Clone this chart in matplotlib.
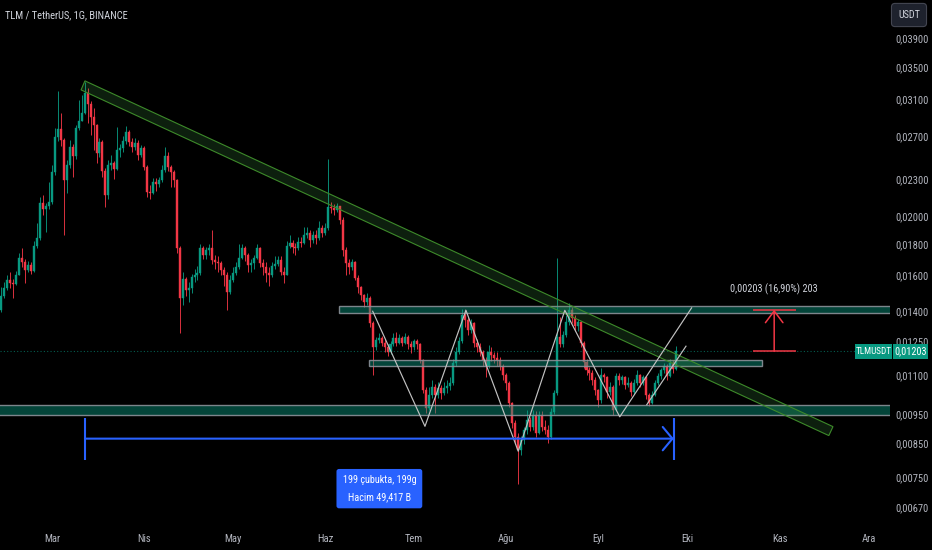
import matplotlib
matplotlib.use('Agg')
import matplotlib.pyplot as plt
from matplotlib import font_manager as fm
from matplotlib.patches import Polygon, Rectangle
from matplotlib.ticker import NullLocator
import numpy as np
import pandas as pd

# ---------------- fonts ----------------
names = {f.name for f in fm.fontManager.ttflist}
FONT = 'DejaVu Sans'
for cand in ['Liberation Sans Narrow', 'DejaVu Sans Condensed', 'Roboto Condensed', 'Roboto']:
    if cand in names:
        FONT = cand
        break
NARROW = FONT in ('Liberation Sans Narrow', 'DejaVu Sans Condensed', 'Roboto Condensed')
FS = 7.6 if NARROW else 6.6
plt.rcParams['font.family'] = [FONT, 'DejaVu Sans']

# ---------------- data ----------------
start_date = '2024-02-13'
first_open = 0.01407
closes = [
    0.01482, 0.01527, 0.01574, 0.01556, 0.01551, 0.01605, 0.01710, 0.01684, 0.01635, 0.01665,
    0.01629, 0.01789, 0.01844, 0.02102, 0.02055, 0.02079, 0.02110, 0.02362, 0.02693, 0.02775,
    0.02663, 0.02292, 0.02425, 0.02594, 0.02508, 0.02786, 0.02860, 0.02948, 0.03177, 0.03049,
    0.02903, 0.02818, 0.02536, 0.02643, 0.02371, 0.02167, 0.02425, 0.02443, 0.02389, 0.02565,
    0.02584, 0.02653, 0.02744, 0.02643, 0.02594, 0.02633, 0.02517, 0.02584, 0.02407, 0.02191,
    0.02183, 0.02275, 0.02258, 0.02292, 0.02380, 0.02508, 0.02407, 0.02362, 0.02292, 0.01776,
    0.01471, 0.01581, 0.01516, 0.01527, 0.01592, 0.01605, 0.01617, 0.01776, 0.01729, 0.01762,
    0.01776, 0.01697, 0.01684, 0.01678, 0.01635, 0.01605, 0.01505, 0.01574, 0.01617, 0.01653,
    0.01710, 0.01776, 0.01729, 0.01665, 0.01678, 0.01710, 0.01776, 0.01678, 0.01653, 0.01617,
    0.01605, 0.01659, 0.01672, 0.01697, 0.01623, 0.01605, 0.01789, 0.01810, 0.01782, 0.01776,
    0.01816, 0.01810, 0.01865, 0.01879, 0.01830, 0.01865, 0.01844, 0.01914, 0.01879, 0.01914,
    0.02071, 0.02063, 0.02048, 0.02079, 0.01972, 0.01762, 0.01678, 0.01653, 0.01684, 0.01587,
    0.01533, 0.01488, 0.01445, 0.01471, 0.01340, 0.01224, 0.01257, 0.01262, 0.01243, 0.01224,
    0.01201, 0.01234, 0.01266, 0.01243, 0.01262, 0.01243, 0.01271, 0.01234, 0.01220, 0.01248,
    0.01234, 0.01166, 0.01041, 0.00973, 0.01022, 0.01053, 0.01022, 0.01049, 0.01029, 0.01049,
    0.01057, 0.01069, 0.01153, 0.01201, 0.01248, 0.01376, 0.01355, 0.01305, 0.01340, 0.01243,
    0.01224, 0.01201, 0.01166, 0.01136, 0.01201, 0.01188, 0.01174, 0.01166, 0.01136, 0.01102,
    0.01069, 0.00992, 0.00920, 0.00873, 0.00831, 0.00863, 0.00896, 0.00930, 0.00906, 0.00948,
    0.00886, 0.00948, 0.00906, 0.00896, 0.00873, 0.00959, 0.01029, 0.01271, 0.01234, 0.01281,
    0.01345, 0.01402, 0.01365, 0.01325, 0.01345, 0.01243, 0.01157, 0.01123, 0.01110, 0.01081,
    0.01041, 0.01003, 0.01102, 0.01090, 0.01033, 0.01053, 0.00966, 0.01094, 0.01081, 0.01090,
    0.01061, 0.01069, 0.01033, 0.01069, 0.01102, 0.01069, 0.01090, 0.01022, 0.00992, 0.01022,
    0.01069, 0.01094, 0.01119, 0.01140, 0.01094, 0.01153, 0.01127, 0.01203,
]
highs = [
    0.01533, 0.01560, 0.01600, 0.01620, 0.01580, 0.01625, 0.01740, 0.01776, 0.01700, 0.01690,
    0.01680, 0.01820, 0.01947, 0.02150, 0.02167, 0.02100, 0.02272, 0.02420, 0.02780, 0.03200,
    0.02948, 0.02680, 0.02470, 0.02660, 0.02620, 0.02820, 0.03095, 0.03150, 0.03307, 0.03230,
    0.03080, 0.03000, 0.02830, 0.02680, 0.02660, 0.02400, 0.02470, 0.02520, 0.02460, 0.02790,
    0.02620, 0.02700, 0.02800, 0.02760, 0.02680, 0.02680, 0.02660, 0.02610, 0.02600, 0.02420,
    0.02250, 0.02310, 0.02310, 0.02320, 0.02420, 0.02594, 0.02540, 0.02420, 0.02380, 0.02300,
    0.01790, 0.01620, 0.01590, 0.01560, 0.01610, 0.01640, 0.01660, 0.01800, 0.01790, 0.01780,
    0.01800, 0.01900, 0.01730, 0.01720, 0.01690, 0.01650, 0.01620, 0.01600, 0.01650, 0.01680,
    0.01800, 0.01800, 0.01790, 0.01740, 0.01700, 0.01730, 0.01800, 0.01780, 0.01700, 0.01680,
    0.01650, 0.01680, 0.01720, 0.01720, 0.01720, 0.01650, 0.01820, 0.01860, 0.01830, 0.01810,
    0.01850, 0.01850, 0.01920, 0.01920, 0.01900, 0.01890, 0.01900, 0.01960, 0.01930, 0.01950,
    0.02475, 0.02110, 0.02090, 0.02100, 0.02080, 0.01990, 0.01780, 0.01700, 0.01700, 0.01690,
    0.01600, 0.01540, 0.01490, 0.01500, 0.01480, 0.01350, 0.01270, 0.01290, 0.01275, 0.01260,
    0.01235, 0.01250, 0.01290, 0.01292, 0.01285, 0.01275, 0.01290, 0.01280, 0.01250, 0.01260,
    0.01260, 0.01240, 0.01170, 0.01050, 0.01050, 0.01080, 0.01065, 0.01070, 0.01060, 0.01070,
    0.01080, 0.01090, 0.01170, 0.01220, 0.01270, 0.01410, 0.01410, 0.01370, 0.01360, 0.01345,
    0.01260, 0.01240, 0.01210, 0.01175, 0.01230, 0.01220, 0.01200, 0.01200, 0.01175, 0.01145,
    0.01110, 0.01075, 0.00995, 0.00930, 0.00885, 0.00875, 0.00905, 0.00965, 0.00940, 0.00965,
    0.00960, 0.00960, 0.00960, 0.00930, 0.00910, 0.00970, 0.01040, 0.01708, 0.01370, 0.01300,
    0.01380, 0.01440, 0.01420, 0.01380, 0.01360, 0.01350, 0.01250, 0.01170, 0.01135, 0.01120,
    0.01090, 0.01045, 0.01130, 0.01110, 0.01095, 0.01070, 0.01060, 0.01110, 0.01110, 0.01100,
    0.01095, 0.01090, 0.01075, 0.01085, 0.01120, 0.01105, 0.01100, 0.01095, 0.01030, 0.01035,
    0.01080, 0.01110, 0.01130, 0.01150, 0.01145, 0.01170, 0.01165, 0.01225,
]
lows = [
    0.01396, 0.01470, 0.01515, 0.01527, 0.01471, 0.01545, 0.01600, 0.01650, 0.01556, 0.01620,
    0.01610, 0.01620, 0.01770, 0.01830, 0.02010, 0.01886, 0.02050, 0.02090, 0.02330, 0.02650,
    0.02600, 0.01863, 0.02183, 0.02400, 0.02318, 0.02480, 0.02760, 0.02860, 0.02940, 0.02840,
    0.02714, 0.02560, 0.02440, 0.02500, 0.02318, 0.02070, 0.02130, 0.02380, 0.02300, 0.02380,
    0.02500, 0.02540, 0.02620, 0.02600, 0.02540, 0.02560, 0.02470, 0.02500, 0.02380, 0.02150,
    0.02130, 0.02170, 0.02200, 0.02230, 0.02270, 0.02360, 0.02370, 0.02233, 0.02230, 0.01740,
    0.01286, 0.01430, 0.01480, 0.01449, 0.01500, 0.01560, 0.01570, 0.01600, 0.01700, 0.01700,
    0.01730, 0.01670, 0.01640, 0.01620, 0.01600, 0.01540, 0.01407, 0.01490, 0.01560, 0.01600,
    0.01640, 0.01700, 0.01690, 0.01620, 0.01620, 0.01640, 0.01700, 0.01650, 0.01600, 0.01560,
    0.01540, 0.01590, 0.01640, 0.01660, 0.01600, 0.01557, 0.01600, 0.01770, 0.01740, 0.01730,
    0.01760, 0.01780, 0.01800, 0.01840, 0.01780, 0.01810, 0.01800, 0.01830, 0.01850, 0.01860,
    0.01900, 0.02020, 0.02010, 0.02030, 0.01940, 0.01720, 0.01600, 0.01610, 0.01630, 0.01570,
    0.01500, 0.01460, 0.01420, 0.01430, 0.01320, 0.01102, 0.01210, 0.01240, 0.01225, 0.01200,
    0.01180, 0.01190, 0.01225, 0.01225, 0.01235, 0.01225, 0.01235, 0.01215, 0.01195, 0.01210,
    0.01215, 0.01150, 0.01030, 0.00955, 0.00965, 0.01010, 0.00955, 0.01010, 0.01005, 0.01020,
    0.01030, 0.01040, 0.01060, 0.01140, 0.01190, 0.01240, 0.01320, 0.01280, 0.01290, 0.01220,
    0.01200, 0.01180, 0.01140, 0.01090, 0.01130, 0.01160, 0.01150, 0.01140, 0.01120, 0.01080,
    0.01040, 0.00975, 0.00900, 0.00850, 0.00730, 0.00815, 0.00850, 0.00880, 0.00890, 0.00895,
    0.00870, 0.00880, 0.00890, 0.00880, 0.00853, 0.00865, 0.00950, 0.01020, 0.01220, 0.01220,
    0.01270, 0.01330, 0.01340, 0.01300, 0.01300, 0.01220, 0.01130, 0.01100, 0.01080, 0.01060,
    0.01020, 0.00975, 0.00990, 0.01070, 0.01010, 0.01020, 0.00945, 0.00960, 0.01060, 0.01065,
    0.01045, 0.01050, 0.01015, 0.01025, 0.01060, 0.01050, 0.01060, 0.01005, 0.00980, 0.00985,
    0.01015, 0.01060, 0.01085, 0.01110, 0.01080, 0.01090, 0.01110, 0.01120,
]

month_labels = ['Mar', 'Nis', 'May', 'Haz', 'Tem', 'Ağu', 'Eyl', 'Eki', 'Kas', 'Ara']
month_first = '2024-03-01'

price_tick_values = [0.039, 0.035, 0.031, 0.027, 0.023, 0.020, 0.018, 0.016, 0.014,
                     0.0125, 0.011, 0.0095, 0.0085, 0.0075, 0.0067]
price_tick_labels = ['0,03900', '0,03500', '0,03100', '0,02700', '0,02300', '0,02000',
                     '0,01800', '0,01600', '0,01400', '0,01250', '0,01100', '0,00950',
                     '0,00850', '0,00750', '0,00670']

last_price = 0.01203
last_price_label = '0,01203'
symbol = 'TLMUSDT'
title = 'TLM / TetherUS, 1G, BINANCE'
currency = 'USDT'

# drawings (day offset from start, price)
trend_band_days = [28.1, 26.8, 278.6, 280.0]
trend_band_prices = [0.03324, 0.03213, 0.00876, 0.00906]

resist_band = (113.6, 0.01391, 0.01428)     # start day, low, high (to right edge)
mid_band = (123.7, 256.1, 0.01140, 0.01162)  # start, end, low, high
support_band = (0.00948, 0.00981)           # full width

zigzag_days = [125.0, 142.6, 156.4, 174.0, 189.7, 208.2, 232.4]
zigzag_prices = [0.01398, 0.00907, 0.01403, 0.00826, 0.01403, 0.00940, 0.01416]
inner_line_days = [217.3, 230.5]
inner_line_prices = [0.00984, 0.01226]

range_start, range_end = 28.1, 226.4
range_price = 0.00866
range_tick_prices = (0.00800, 0.00937)
range_text = '199 çubukta, 199g\nHacim 49,417 B'

measure_day, measure_left, measure_right = 260.2, 253.0, 267.5
measure_low, measure_high = 0.01203, 0.01406
measure_text = '0,00203 (16,90%) 203'

# ---------------- derived ----------------
dates = pd.date_range(start_date, periods=len(closes), freq='D')
xd = np.asarray((dates - dates[0]).days, dtype=float)
c = np.array(closes)
o = np.array([first_open] + closes[:-1])
h = np.array(highs)
l = np.array(lows)
up = c >= o

GREEN = '#089981'
RED = '#f23645'
BG = '#000000'
TXT = '#b2b5be'

W, H = 932, 550
fig = plt.figure(figsize=(W / 100, H / 100), dpi=100, facecolor=BG)
ax = fig.add_axes([0, 30 / H, 890 / W, 520 / H])
ax.set_facecolor(BG)
ax.set_yscale('log')
ax.set_xlim(-0.5, 299.2)
ax.set_ylim(0.006378, 0.04505)
for s in ax.spines.values():
    s.set_visible(False)

# candles
cols = np.where(up, GREEN, RED)
ax.vlines(xd, l, h, colors=cols, lw=0.7, alpha=0.9, zorder=2)
ax.bar(xd, np.abs(c - o), bottom=np.minimum(o, c), width=0.68, color=cols,
       edgecolor=cols, linewidth=0.3, zorder=2)

# current price dotted line
ax.axhline(last_price, color=GREEN, lw=0.8, ls=(0, (1, 2)), alpha=0.6, zorder=1)

# horizontal bands
band_fc = (0.03, 0.60, 0.50, 0.45)
band_ec = (0.55, 0.57, 0.60, 0.9)
xr = ax.get_xlim()[1]
ax.add_patch(Rectangle((resist_band[0], resist_band[1]), xr - resist_band[0] + 5,
                       resist_band[2] - resist_band[1], fc=band_fc, ec=band_ec, lw=1.0, zorder=3))
ax.add_patch(Rectangle((mid_band[0], mid_band[2]), mid_band[1] - mid_band[0],
                       mid_band[3] - mid_band[2], fc=band_fc, ec=band_ec, lw=1.0, zorder=3))
ax.add_patch(Rectangle((-5, support_band[0]), xr + 10, support_band[1] - support_band[0],
                       fc=band_fc, ec=band_ec, lw=1.0, zorder=3))

# diagonal trend band
ax.add_patch(Polygon(list(zip(trend_band_days, trend_band_prices)), closed=True,
                     fc=(0.30, 0.69, 0.31, 0.18), ec='#3d8a2a', lw=0.8, zorder=3))

# zigzag lines
ax.plot(zigzag_days, zigzag_prices, color='#c2c2c2', lw=0.85, zorder=4)
ax.plot(inner_line_days, inner_line_prices, color='#c2c2c2', lw=0.85, zorder=4)

# date range measurement
BLUE = '#2962ff'
ax.vlines([range_start, range_end], range_tick_prices[0], range_tick_prices[1],
          colors=BLUE, lw=1.5, zorder=5)
ax.annotate('', xy=(range_end, range_price), xytext=(range_start, range_price),
            arrowprops=dict(arrowstyle='->,head_length=0.5,head_width=0.6', color=BLUE,
                            lw=1.5, shrinkA=0, shrinkB=0, mutation_scale=14), zorder=5)
ax.annotate(range_text, xy=((range_start + range_end) / 2, range_price),
            xytext=(0, -36), textcoords='offset points', ha='center', va='center',
            color='white', fontsize=FS - 0.3, linespacing=1.9, zorder=6,
            bbox=dict(boxstyle='round,pad=0.6,rounding_size=0.25', fc=BLUE, ec='none'))

# price measurement
ax.hlines([measure_low, measure_high], measure_left, measure_right, colors=RED, lw=1.1, zorder=5)
ax.annotate('', xy=(measure_day, measure_high), xytext=(measure_day, measure_low),
            arrowprops=dict(arrowstyle='->,head_length=0.6,head_width=0.45', color=RED,
                            lw=1.1, shrinkA=0, shrinkB=0, mutation_scale=14), zorder=5)
ax.annotate(measure_text, xy=(measure_day, measure_high), xytext=(0, 15),
            textcoords='offset points', ha='center', va='center', color='#d1d4dc',
            fontsize=FS - 0.2, zorder=6)

# axes ticks
ax.yaxis.tick_right()
ax.set_yticks(price_tick_values)
ax.set_yticklabels(price_tick_labels)
ax.yaxis.set_minor_locator(NullLocator())
ax.tick_params(axis='y', length=0, pad=4, labelsize=FS, labelcolor=TXT)

months = pd.date_range(month_first, periods=len(month_labels), freq='MS')
ax.set_xticks(np.asarray((months - dates[0]).days, dtype=float))
ax.set_xticklabels(month_labels)
ax.xaxis.set_minor_locator(NullLocator())
ax.tick_params(axis='x', length=0, pad=10, labelsize=FS, labelcolor=TXT)

# price labels on axis (boxes)
y_disp = ax.transData.transform((0, last_price))[1]
yc = y_disp / H
bh = 15 / H
fig.patches.append(Rectangle((855 / W, yc - bh / 2), 37 / W, bh, transform=fig.transFigure,
                             fc=GREEN, ec='none', zorder=10))
fig.patches.append(Rectangle((893 / W, yc - bh / 2), 35 / W, bh, transform=fig.transFigure,
                             fc=GREEN, ec='none', zorder=10))
fig.text(873.5 / W, yc, symbol, ha='center', va='center', color='white',
         fontsize=FS - 1.0, zorder=11)
fig.text(910.5 / W, yc, last_price_label, ha='center', va='center', color='white',
         fontsize=FS - 0.2, zorder=11)

# title and currency box
fig.text(5 / W, 1 - 15 / H, title, ha='left', va='center', color='#d1d4dc', fontsize=FS)
fig.text(909 / W, 1 - 15 / H, currency, ha='center', va='center', color='#d1d4dc',
         fontsize=FS - 0.3,
         bbox=dict(boxstyle='round,pad=0.65,rounding_size=0.35', fc='#1e222d', ec='#434651', lw=0.8))

fig.savefig('out.png', dpi=100, facecolor=BG)
